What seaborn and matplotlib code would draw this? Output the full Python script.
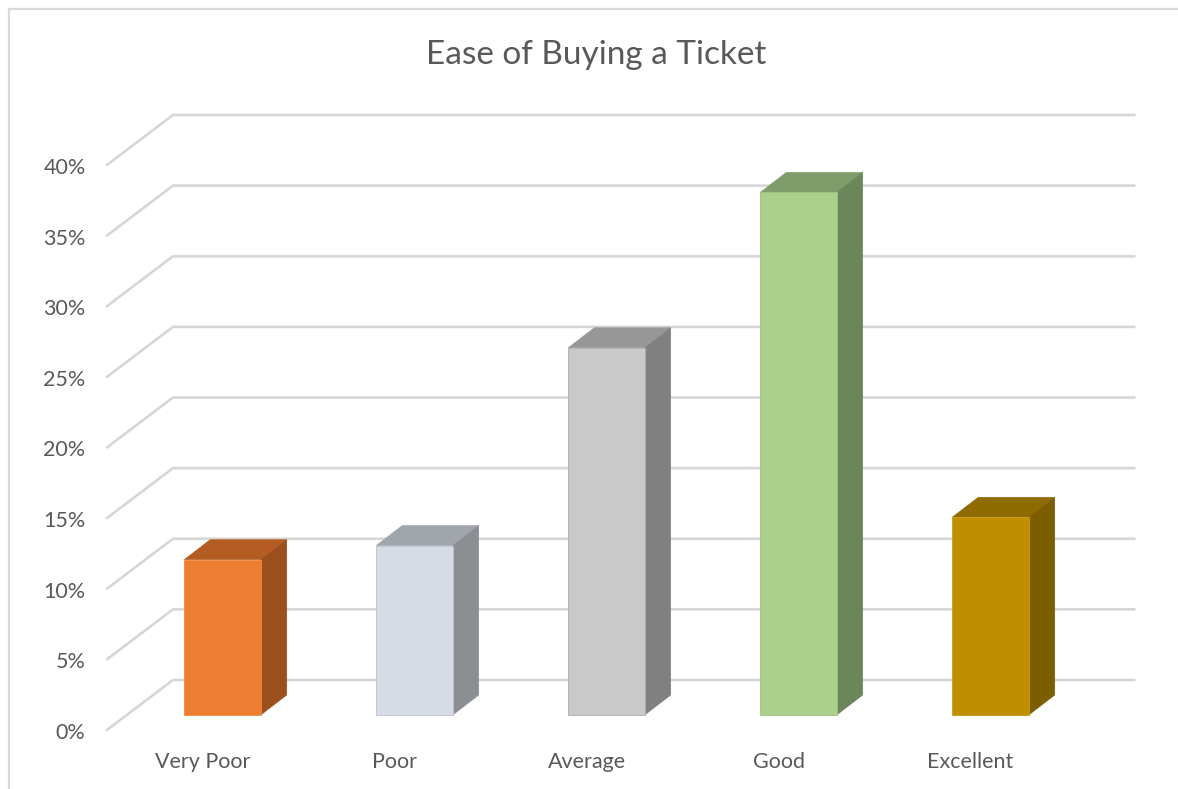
import matplotlib
matplotlib.use("Agg")
import matplotlib.pyplot as plt
from matplotlib.lines import Line2D
from matplotlib.patches import Polygon
from matplotlib.transforms import ScaledTranslation
import pandas as pd
import seaborn as sns

categories = ["Very Poor", "Poor", "Average", "Good", "Excellent"]
values = [11, 12, 26, 37, 14]
y_ticks = [0, 5, 10, 15, 20, 25, 30, 35, 40]
title = "Ease of Buying a Ticket"

front_colors = ["#ED7D31", "#D6DCE5", "#C9C9C9", "#ABD08C", "#BF8F00"]
top_colors = ["#B35D22", "#A1A5AC", "#979797", "#7F9D6B", "#8F6B00"]
side_colors = ["#9C4F1D", "#8B8E92", "#808080", "#6B8659", "#7C5D00"]
edge_colors = ["#EE8A48", "#BCC2CB", "#AEAEAE", "#9CC180", "#C89C20"]

W, H = 1178, 789
TEXT = "#595959"
GRID = "#D6D6D6"

sns.set_theme(style="white")
plt.rcParams["font.family"] = ["Lato", "DejaVu Sans"]

fig = plt.figure(figsize=(W / 100, H / 100), dpi=100)
# plot box in pixels: x 126.5..1086.5, y 150..715
ax = fig.add_axes([126.5 / W, 1 - 715 / H, 960 / W, 565 / H])

df = pd.DataFrame({"category": categories, "value": values})
sns.barplot(data=df, x="category", y="value", hue="category", palette=front_colors,
            legend=False, width=76.5 / 192, saturation=1, ax=ax, zorder=3)

ax.set_xlim(-0.5, 4.5)
ax.set_ylim(0, 40)
ax.set_xlabel("")
ax.set_ylabel("")
sns.despine(ax=ax, left=True, bottom=True, top=True, right=True)
ax.patch.set_alpha(0)

px_x = 960 / 5      # pixels per category
px_y = 565 / 40     # pixels per percent

# walls: side-wall diagonal then back-wall line for every tick
for t in y_ticks:
    ax.plot([-0.602, -0.258, 4.75],
            [t - 15 / px_y, t + 35 / px_y, t + 35 / px_y],
            color=GRID, lw=1.9, clip_on=False, zorder=1,
            solid_joinstyle="miter", solid_capstyle="round")

# bar depth
dx = 26 / px_x
dy = 20 / px_y
for p, top_c, side_c, edge_c in zip(ax.patches, top_colors, side_colors, edge_colors):
    x0, w, h = p.get_x(), p.get_width(), p.get_height()
    x1 = x0 + w
    p.set_edgecolor(edge_c)
    p.set_linewidth(0.6)
    ax.add_patch(Polygon([(x0, h), (x1, h), (x1 + dx, h + dy), (x0 + dx, h + dy)],
                         closed=True, fc=top_c, ec=top_c, lw=0.4, clip_on=False, zorder=2.5))
    ax.add_patch(Polygon([(x1, 0), (x1 + dx, dy), (x1 + dx, h + dy), (x1, h)],
                         closed=True, fc=side_c, ec=side_c, lw=0.4, clip_on=False, zorder=2.5))
    p.set_clip_on(False)

# tick labels
ax.set_yticks(y_ticks)
ax.set_yticklabels([f"{t}%" for t in y_ticks])
ax.tick_params(axis="both", length=0, labelsize=15.5, labelcolor=TEXT)
ax.tick_params(axis="y", pad=29.5)
ax.tick_params(axis="x", pad=27)
shift_y = ScaledTranslation(0, -16 / 100, fig.dpi_scale_trans)
shift_x = ScaledTranslation(-20 / 100, 0, fig.dpi_scale_trans)
for lab in ax.get_yticklabels():
    lab.set_transform(lab.get_transform() + shift_y)
for lab in ax.get_xticklabels():
    lab.set_transform(lab.get_transform() + shift_x)

fig.text(596 / W, 1 - 55 / H, title, ha="center", va="center", fontsize=24, color=TEXT)

# chart-area frame, top and left edges only
fig.add_artist(Line2D([8.5 / W, 1], [1 - 9 / H, 1 - 9 / H], color="#D9D9D9", lw=1.6,
                      transform=fig.transFigure))
fig.add_artist(Line2D([8.5 / W, 8.5 / W], [1 - 9 / H, 0], color="#D9D9D9", lw=1.6,
                      transform=fig.transFigure))

fig.savefig("out.png", dpi=100)
